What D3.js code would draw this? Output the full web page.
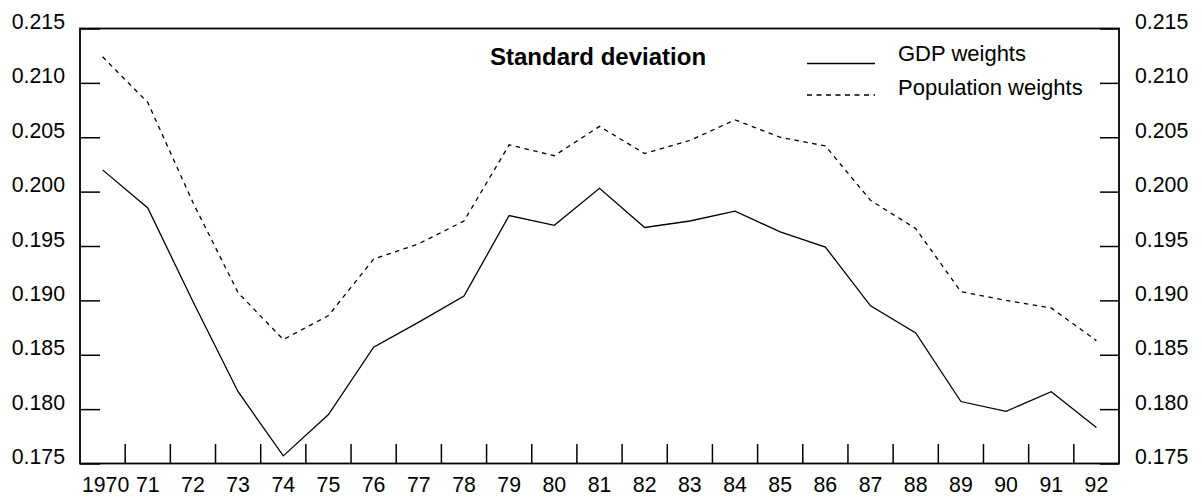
<!DOCTYPE html>
<html>
<head>
<meta charset="utf-8">
<script src="https://cdn.jsdelivr.net/npm/d3@7"></script>
<style>
  html, body { margin: 0; padding: 0; background: #fff; }
  svg { display: block; }
  text { font-family: "Liberation Sans", Arial, sans-serif; fill: #000; }
</style>
</head>
<body>
<svg id="chart" width="1202" height="497"></svg>
<script>
// Standard deviation of the series, 1970–92, under two weighting schemes
const years = ["1970","71","72","73","74","75","76","77","78","79","80","81",
               "82","83","84","85","86","87","88","89","90","91","92"];
const gdpWeights = [0.2020,0.1985,0.1899,0.1816,0.1757,0.1795,0.1857,0.1880,0.1904,
                    0.1978,0.1969,0.2003,0.1967,0.1973,0.1982,0.1963,0.1949,0.1895,
                    0.1870,0.1807,0.1798,0.1816,0.1783];
const popWeights = [0.2124,0.2082,0.1990,0.1907,0.1864,0.1886,0.1938,0.1952,0.1973,
                    0.2043,0.2033,0.2060,0.2035,0.2047,0.2066,0.2050,0.2042,0.1992,
                    0.1966,0.1908,0.1900,0.1893,0.1863];
const yTicks = [0.175,0.180,0.185,0.190,0.195,0.200,0.205,0.210,0.215];
const titleText = "Standard deviation";
const seriesNames = ["GDP weights", "Population weights"];

const svg = d3.select("#chart");
const plotLeft = 80, plotRight = 1119, plotTop = 28.5, plotBottom = 463.5;

const x = d3.scaleBand().domain(years).range([plotLeft, plotRight]).paddingInner(0).paddingOuter(0);
const y = d3.scaleLinear().domain([0.175, 0.215]).range([plotBottom, plotTop]);
const cx = d => x(d) + x.bandwidth() / 2;

// Left and right axes: inward ticks, labels outside
const yAxisL = svg.append("g").attr("transform", `translate(${plotLeft},0)`)
  .call(d3.axisLeft(y).tickValues(yTicks).tickFormat(d3.format(".3f")).tickSize(-20).tickPadding(15));
const yAxisR = svg.append("g").attr("transform", `translate(${plotRight},0)`)
  .call(d3.axisRight(y).tickValues(yTicks).tickFormat(d3.format(".3f")).tickSize(-19).tickPadding(16));
[yAxisL, yAxisR].forEach(g => {
  g.select(".domain").remove();
  g.selectAll(".tick line").attr("stroke", "#000").attr("stroke-width", 1.5);
  g.selectAll(".tick text").attr("dy", "0").attr("font-size", 21.3)
    .attr("font-family", "'Liberation Sans', Arial, sans-serif").attr("fill", "#000");
});

// Bottom axis: ticks at band boundaries, labels at band centres
const xg = svg.append("g");
xg.selectAll("line.xt").data(years.slice(1)).enter().append("line")
  .attr("class", "xt")
  .attr("x1", d => x(d)).attr("x2", d => x(d))
  .attr("y1", plotBottom).attr("y2", plotBottom - 19.5)
  .attr("stroke", "#000").attr("stroke-width", 1.5);
xg.selectAll("text.xl").data(years).enter().append("text")
  .attr("class", "xl")
  .attr("x", d => cx(d))
  .attr("dx", (d, i) => i === 0 ? 3 : 0)
  .attr("y", 491.5)
  .attr("text-anchor", "middle")
  .attr("font-size", 21.3)
  .text(d => d);

// Frame
svg.append("rect")
  .attr("x", plotLeft).attr("y", plotTop)
  .attr("width", plotRight - plotLeft).attr("height", plotBottom - plotTop)
  .attr("fill", "none").attr("stroke", "#000").attr("stroke-width", 1.8);

// Series lines
const line = d3.line().x((d, i) => cx(years[i])).y(d => y(d));
svg.append("path").datum(popWeights)
  .attr("d", line).attr("fill", "none").attr("stroke", "#000")
  .attr("stroke-width", 1.3).attr("stroke-dasharray", "4.5,4.5");
svg.append("path").datum(gdpWeights)
  .attr("d", line).attr("fill", "none").attr("stroke", "#000")
  .attr("stroke-width", 1.3);

// Title
svg.append("text")
  .attr("x", 490).attr("y", 65)
  .attr("font-size", 24).attr("font-weight", "bold")
  .text(titleText);

// Legend
const legend = svg.append("g");
legend.append("line").attr("x1", 807).attr("x2", 875).attr("y1", 63.5).attr("y2", 63.5)
  .attr("stroke", "#000").attr("stroke-width", 1.3);
legend.append("line").attr("x1", 807).attr("x2", 875).attr("y1", 95).attr("y2", 95)
  .attr("stroke", "#000").attr("stroke-width", 1.3).attr("stroke-dasharray", "5,4.5");
legend.selectAll("text").data(seriesNames).enter().append("text")
  .attr("x", 898).attr("y", (d, i) => 61 + i * 34)
  .attr("font-size", 22)
  .text(d => d);
</script>
</body>
</html>
